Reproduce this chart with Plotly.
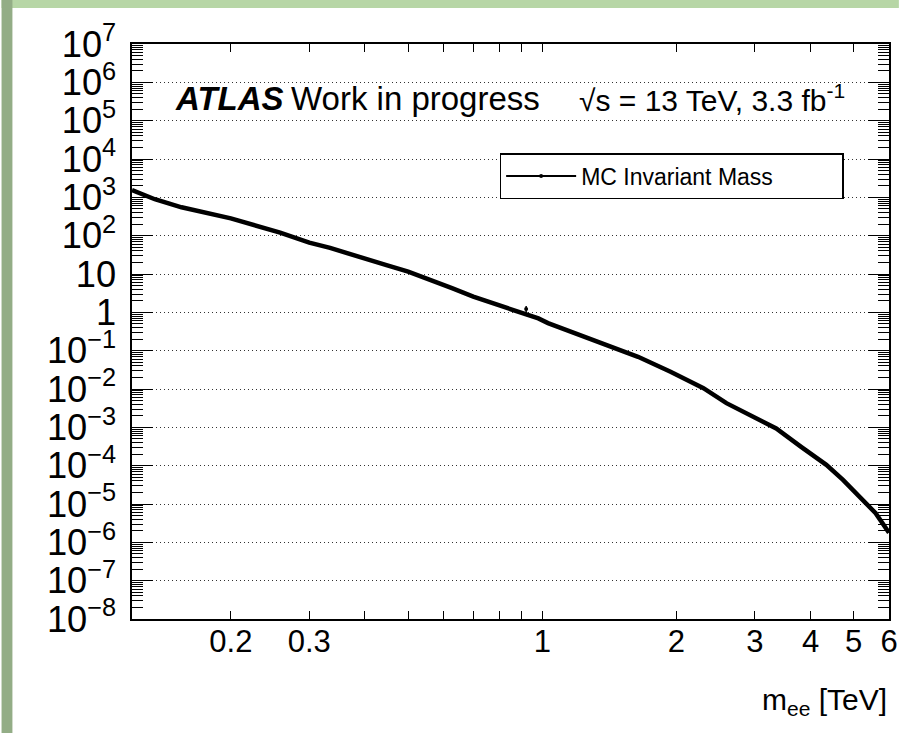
import plotly.graph_objects as go

# Dielectron invariant-mass spectrum (MC), events per bin
mass_tev = [0.12, 0.135, 0.155, 0.2, 0.258, 0.3, 0.334, 0.4, 0.447, 0.5,
            0.55, 0.627, 0.7, 0.8, 0.917, 0.98, 1.03, 1.16, 1.38, 1.64,
            1.94, 2.30, 2.59, 2.94, 3.35, 3.81, 4.34, 4.73, 5.14, 5.6, 6.0]
events = [1550, 891, 550, 282, 120, 66.0, 47.9, 24.5, 17.0, 11.5,
          7.76, 4.27, 2.57, 1.55, 0.955, 0.692, 0.525, 0.316, 0.155, 0.0692,
          0.0282, 0.0105, 0.00427, 0.00209, 0.000933, 0.000309, 0.000105,
          4.27e-5, 1.55e-5, 5.75e-6, 1.78e-6]

# single fluctuating bin drawn with its error bar
outlier_mass = [0.92]
outlier_events = [1.22]
outlier_err = [0.25]

x_tickvals = [0.2, 0.3, 0.4, 0.5, 0.6, 0.7, 0.8, 0.9, 1, 2, 3, 4, 5, 6]
x_ticktext = ["0.2", "0.3", "", "", "", "", "", "", "1", "2", "3", "4", "5", "6"]

FONT = "Liberation Sans, Arial, Helvetica, sans-serif"

# plot-area geometry (pixels) used for paper-coordinate placement
W, H = 908, 733
ML, MR, MT, MB = 132, 10, 44, 114
PW, PH = W - ML - MR, H - MT - MB


def px_x(px):
    return (px - ML) / PW


def px_y(py):
    return (H - MB - py) / PH


fig = go.Figure()

fig.add_trace(go.Scatter(
    x=mass_tev, y=events, mode="lines",
    line=dict(color="black", width=4.5),
    showlegend=False, hoverinfo="x+y",
))

fig.add_trace(go.Scatter(
    x=outlier_mass, y=outlier_events, mode="markers",
    marker=dict(color="black", size=4),
    error_y=dict(type="data", array=outlier_err, color="black", thickness=1.5, width=0),
    showlegend=False,
))

# legend entry
fig.add_trace(go.Scatter(
    x=[None], y=[None], mode="lines+markers", name="MC Invariant Mass",
    line=dict(color="black", width=2), marker=dict(color="black", size=4),
))

fig.update_xaxes(
    type="log", range=[-0.9208, 0.77815],
    tickvals=x_tickvals, ticktext=x_ticktext,
    ticks="inside", ticklen=8, tickwidth=1.2, tickcolor="black",
    showline=True, linecolor="black", linewidth=2, mirror="ticks",
    showgrid=False, zeroline=False,
    tickfont=dict(family=FONT, size=31, color="black"),
    ticklabelstandoff=-6,
)

fig.update_yaxes(
    type="log", range=[-8, 7], dtick=1, exponentformat="power",
    ticks="inside", ticklen=21, tickwidth=1.2, tickcolor="black",
    minor=dict(ticks="inside", ticklen=11, tickwidth=1, tickcolor="black",
               dtick="D1", showgrid=False),
    showline=True, linecolor="black", linewidth=2, mirror="ticks",
    showgrid=True, gridcolor="#333333", gridwidth=1, griddash="1px,3px",
    zeroline=False,
    tickfont=dict(family=FONT, size=29, color="black"),
    ticklabelstandoff=8,
)

annotations = [
    dict(text="<b><i>ATLAS</i></b>", x=px_x(173), y=px_y(98), xanchor="left", yanchor="middle",
         font=dict(family=FONT, size=33, color="black")),
    dict(text="Work in progress", x=px_x(291), y=px_y(98), xanchor="left", yanchor="middle",
         font=dict(family=FONT, size=33, color="black")),
    dict(text="√s = 13 TeV, 3.3 fb<sup>-1</sup>", x=px_x(582), y=px_y(98), xanchor="left",
         yanchor="middle", font=dict(family=FONT, size=30, color="black")),
    dict(text="m<sub>ee</sub> [TeV]", x=1, y=px_y(702), xanchor="right", yanchor="middle",
         font=dict(family=FONT, size=30, color="black")),
]
for a in annotations:
    a.update(xref="paper", yref="paper", showarrow=False)

# green frame around the canvas
shapes = [
    dict(type="rect", xref="paper", yref="paper", x0=px_x(0), x1=px_x(W), y0=px_y(8), y1=px_y(0),
         fillcolor="#b7d6a6", line=dict(width=0), layer="below"),
    dict(type="rect", xref="paper", yref="paper", x0=px_x(0), x1=px_x(11), y0=px_y(H), y1=px_y(0),
         fillcolor="#93ad86", line=dict(width=0), layer="below"),
]

fig.update_layout(
    width=W, height=H,
    margin=dict(l=ML, r=MR, t=MT, b=MB),
    paper_bgcolor="white", plot_bgcolor="white",
    font=dict(family=FONT, color="black"),
    annotations=annotations, shapes=shapes,
    legend=dict(
        x=px_x(504), y=px_y(153), xanchor="left", yanchor="top",
        orientation="h", entrywidth=256, itemwidth=70,
        bgcolor="white", bordercolor="black", borderwidth=1.5,
        font=dict(family=FONT, size=23, color="black"),
    ),
)

fig.write_html("out.html")
